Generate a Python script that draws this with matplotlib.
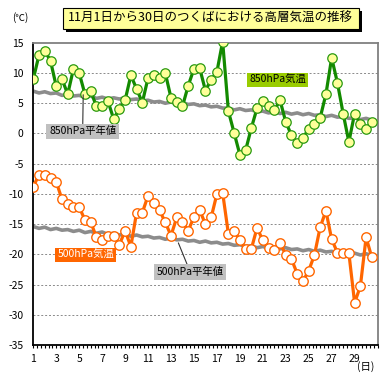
import numpy as np
import matplotlib
matplotlib.use('Agg')
import matplotlib.pyplot as plt
from matplotlib.patches import Rectangle

plt.rcParams['font.family'] = ['Noto Sans CJK JP', 'DejaVu Sans']

# observation times: 09 and 21 JST, Nov 1 - Nov 30
obs_time = np.arange(60) / 2 + 1

# 850hPa temperature
t850 = [9.0, 13.0, 13.7, 12.0, 7.8, 9.0, 6.5, 10.7, 10.0, 6.5,
        7.0, 4.5, 4.5, 5.4, 2.4, 4.1, 5.5, 9.6, 7.4, 5.1,
        9.2, 9.6, 9.1, 10.0, 5.9, 5.2, 4.5, 7.9, 10.7, 10.8,
        7.1, 8.9, 10.2, 15.2, 3.7, 0.1, -3.5, -2.8, 0.9, 4.2,
        5.3, 4.5, 3.8, 5.5, 1.9, -0.3, -1.6, -0.7, 0.7, 1.5,
        2.6, 6.5, 12.5, 8.4, 3.3, -1.4, 3.3, 1.6, 0.8, 1.9]

# 500hPa temperature
t500 = [-8.8, -6.8, -6.9, -7.4, -8.0, -10.9, -11.6, -12.2, -12.2, -14.3,
        -14.6, -17.2, -17.6, -17.0, -16.9, -18.4, -16.1, -18.7, -13.1, -13.1,
        -10.3, -11.5, -12.7, -14.7, -16.9, -13.9, -14.6, -16.1, -13.8, -12.7,
        -15.0, -13.9, -10.0, -9.8, -16.6, -16.1, -17.7, -19.1, -19.1, -15.6,
        -17.7, -19.0, -19.2, -18.1, -20.1, -20.8, -23.2, -24.4, -22.7, -20.1,
        -15.5, -12.8, -17.5, -19.7, -19.7, -19.8, -28.0, -25.3, -17.2, -20.5]

# normals
n850 = [7.0, 6.7, 6.9, 6.6, 6.7, 6.3, 6.5, 6.2, 6.3, 6.0,
        6.2, 5.8, 6.0, 5.7, 5.9, 5.7, 5.9, 5.6, 5.7, 5.4,
        5.5, 5.2, 5.3, 5.0, 5.2, 4.9, 5.1, 4.8, 4.9, 4.6,
        4.7, 4.4, 4.5, 4.2, 4.2, 3.9, 4.1, 3.8, 3.9, 3.6,
        3.7, 3.4, 3.6, 3.3, 3.5, 3.2, 3.4, 3.1, 3.3, 3.0,
        3.1, 2.8, 3.0, 2.7, 2.8, 2.5, 2.6, 2.3, 2.5, 2.2]

n500 = [-15.4, -15.7, -15.5, -15.9, -15.7, -16.0, -15.9, -16.2, -16.0, -16.4,
        -16.2, -16.5, -16.3, -16.7, -16.5, -16.8, -16.6, -17.0, -16.8, -17.1,
        -17.0, -17.3, -17.2, -17.5, -17.3, -17.6, -17.5, -17.8, -17.7, -18.0,
        -17.8, -18.1, -18.0, -18.3, -18.2, -18.5, -18.4, -18.7, -18.6, -18.9,
        -18.7, -19.0, -18.8, -19.1, -18.9, -19.2, -19.1, -19.4, -19.2, -19.5,
        -19.3, -19.6, -19.5, -19.8, -19.6, -19.9, -19.8, -20.1, -19.9, -20.2]

day_labels = list(range(1, 31, 2))
y_ticks = list(range(-35, 20, 5))

fig = plt.figure(figsize=(3.89, 3.89), dpi=100)
ax = fig.add_axes([0.0856, 0.113, 0.885, 0.777])

# grid
for yv in y_ticks[1:-1]:
    ax.axhline(yv, color='#8a8a8a', lw=0.7, ls=(0, (2, 2)), zorder=0)

# normals
ax.plot(obs_time, n850, color='#8c8c8c', lw=2.6, zorder=2)
ax.plot(obs_time, n500, color='#8c8c8c', lw=2.6, zorder=2)

# observations
ax.plot(obs_time, t850, color='#138a00', lw=2.3, marker='o', ms=6.8,
        mfc='#ffff99', mec='#2a9a10', mew=0.9, zorder=3)
ax.plot(obs_time, t500, color='#ff6600', lw=2.3, marker='o', ms=6.8,
        mfc='white', mec='#ff6600', mew=1.0, zorder=3)

ax.set_xlim(1, 31)
ax.set_ylim(-35, 15)
ax.set_yticks(y_ticks)
ax.set_yticklabels([str(v) for v in y_ticks], fontsize=7.5)
ax.tick_params(axis='y', length=0, pad=7)
ax.set_xticks(day_labels)
ax.set_xticklabels([str(d) for d in day_labels], fontsize=7.5)
ax.set_xticks(np.arange(1, 31.01, 1 / 3), minor=True)
ax.tick_params(axis='x', which='both', length=2.5, width=0.8, direction='out', pad=4)

for s in ['left', 'bottom']:
    ax.spines[s].set_color('black')
    ax.spines[s].set_linewidth(1.3)
for s in ['top', 'right']:
    ax.spines[s].set_color('#808080')
    ax.spines[s].set_linewidth(1.3)

# series labels
ax.text(22.3, 8.9, '850hPa気温', fontsize=7.5, ha='center', va='center', color='black',
        bbox=dict(boxstyle='square,pad=0.2', fc='#99cc00', ec='none'), zorder=5)
ax.text(5.58, -20.1, '500hPa気温', fontsize=7.5, ha='center', va='center', color='white',
        bbox=dict(boxstyle='square,pad=0.2', fc='#ff6600', ec='none'), zorder=5)
ax.annotate('850hPa平年値', xy=(5.35, 6.4), xytext=(5.3, 0.35), fontsize=7.5,
            ha='center', va='center',
            bbox=dict(boxstyle='square,pad=0.25', fc='#c0c0c0', ec='none'),
            arrowprops=dict(arrowstyle='-', color='#333333', lw=0.8,
                            shrinkA=0, shrinkB=0), zorder=5)
ax.annotate('500hPa平年値', xy=(13.64, -18.1), xytext=(14.67, -22.9), fontsize=7.5,
            ha='center', va='center',
            bbox=dict(boxstyle='square,pad=0.25', fc='#c0c0c0', ec='none'),
            arrowprops=dict(arrowstyle='-', color='#333333', lw=0.8,
                            shrinkA=0, shrinkB=0), zorder=5)

# units
fig.text(20 / 389, 1 - 18 / 389, '(℃)', fontsize=7, ha='center', va='center')
fig.text(366 / 389, 1 - 367 / 389, '(日)', fontsize=7.5, ha='center', va='center')

# title box with shadow
W = H = 389.0
bx0, bx1, by0, by1 = 62.7, 359.0, 8.0, 29.0
fig.patches.append(Rectangle((bx0 / W + 3 / W, 1 - by1 / H - 3 / H),
                             (bx1 - bx0) / W, (by1 - by0) / H,
                             transform=fig.transFigure, fc='black', ec='none', zorder=1))
fig.patches.append(Rectangle((bx0 / W, 1 - by1 / H), (bx1 - bx0) / W, (by1 - by0) / H,
                             transform=fig.transFigure, fc='#ffff99', ec='black', lw=0.8,
                             zorder=2))
fig.text((bx0 + bx1) / 2 / W, 1 - (by0 + by1) / 2 / H,
         '11月1日から30日のつくばにおける高層気温の推移', fontsize=9,
         ha='center', va='center', zorder=3)

fig.savefig('out.png', dpi=100)
